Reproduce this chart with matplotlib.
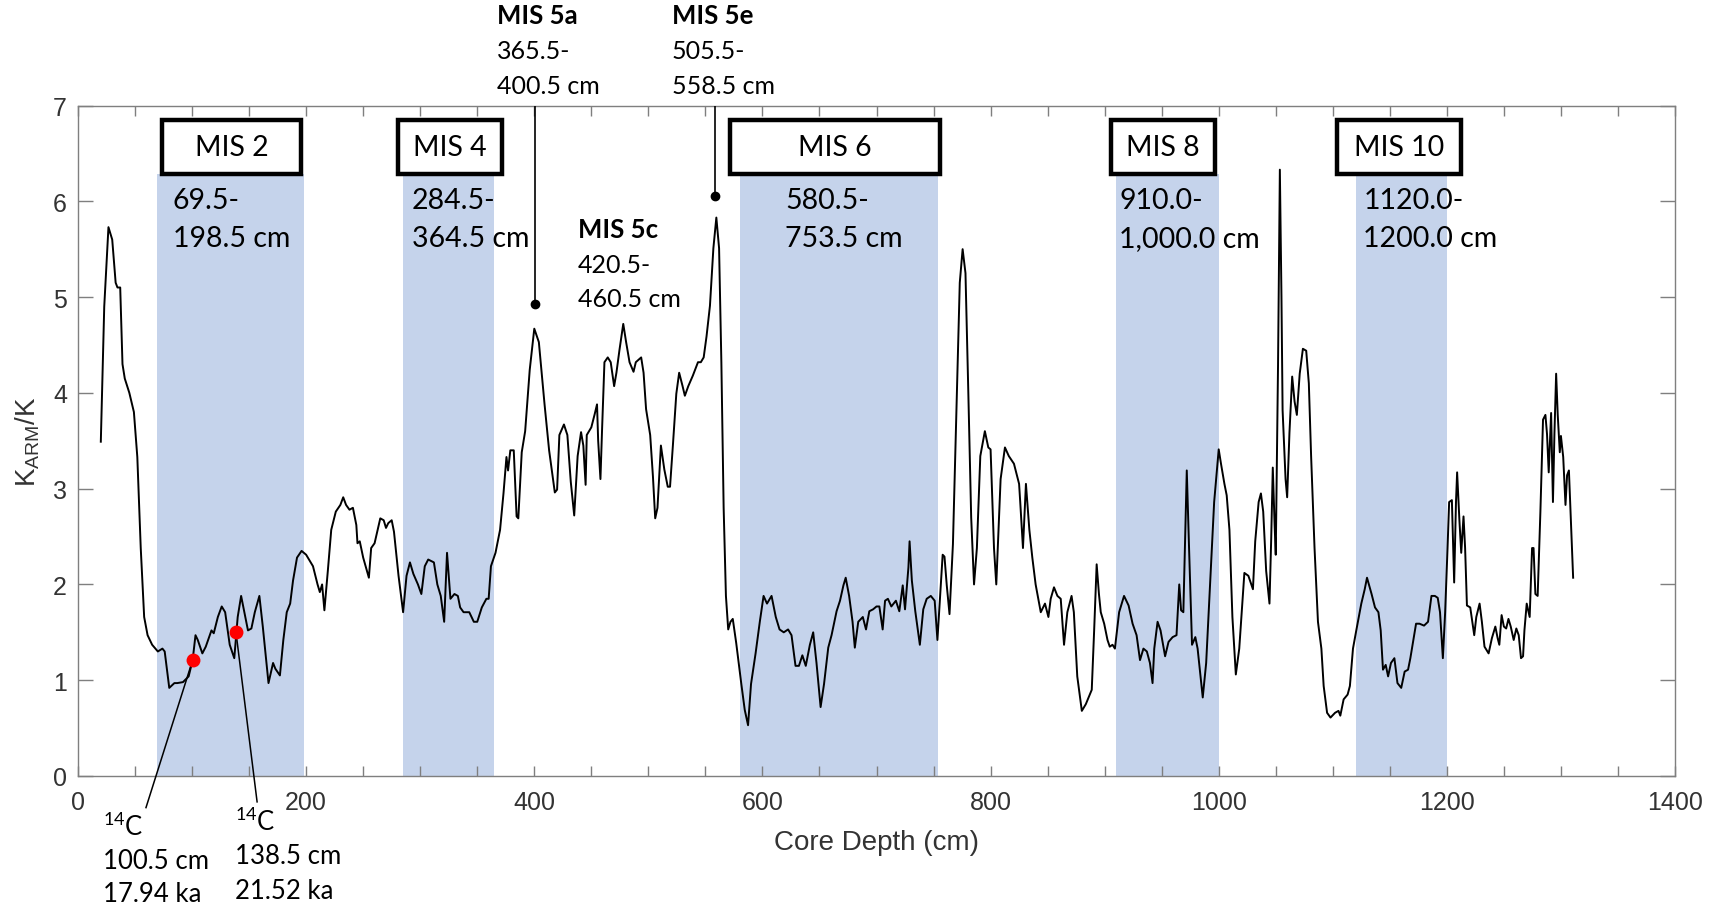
import matplotlib
matplotlib.use("Agg")
import matplotlib.pyplot as plt
from matplotlib.patches import Rectangle
from matplotlib.ticker import MultipleLocator

# ---------------------------------------------------------------- data
depth_cm = [
    20, 23, 26.7, 30, 33, 34.6, 37, 39, 41, 45, 49, 52, 55, 58, 61, 65, 70, 74, 76, 80,
    84.5, 87, 92, 97, 100.5, 103, 105, 109, 112, 117, 119, 122.6, 126, 129, 133, 137, 140,
    143, 145, 149, 152, 155, 159, 162, 167, 171, 173, 177, 180, 183, 186, 188.5, 192, 196,
    200, 206, 210, 212, 214, 216, 219, 222, 226, 230, 232.5, 235, 238, 241, 244, 245, 247,
    250, 255, 257, 260, 265, 268, 270, 272, 275, 277, 281, 285, 288, 291, 294, 298, 301,
    304, 307, 312, 315, 318, 321, 323.5, 325, 326.5, 330, 333, 335, 338, 343, 345, 347,
    350, 354, 358, 360, 362, 366, 370, 373, 375.6, 377, 379, 382, 384.5, 386, 389, 392,
    396, 400, 404, 409, 413, 418, 420, 422, 426, 429, 432, 435, 438, 441, 443, 445, 446,
    450, 453, 455, 456, 458, 459.4, 461.5, 464.4, 467, 470, 472, 474.7, 478, 480.5, 483.5,
    487, 489, 493.7, 495.8, 498, 501.6, 504, 506, 508, 511, 514, 517, 519, 521.5, 524.5,
    527, 530, 532, 535, 539, 543.5, 546, 548.5, 551, 554, 557, 559.6, 562, 564, 566, 568,
    570, 572, 574, 577, 581.5, 584.5, 587.4, 590, 594, 597.7, 601, 604, 608, 611.7, 615,
    618.7, 622.5, 625.5, 629, 632, 635, 638, 641.6, 644.5, 647.4, 651, 654, 657.7, 660.6,
    665, 668, 671, 673, 676, 679, 681, 684, 688, 690.8, 693.7, 697, 700, 702.5, 705.4,
    707.5, 710, 713, 717, 720, 723, 725, 728, 729, 731, 734, 738, 741, 744, 747.6, 751,
    753.4, 755.8, 758, 759.6, 761.6, 764, 767, 770, 773, 775.5, 778, 780.5, 783, 785.5,
    788, 791, 795, 798, 800, 803, 805, 808.8, 812.6, 816, 820.5, 825, 826, 828.4, 831,
    834, 836.6, 839.5, 844, 847.7, 850.7, 852.7, 855.6, 858.6, 861.5, 864.4, 867.3, 871,
    873, 876, 880, 883.5, 888.7, 890.8, 893, 895, 896.6, 899.6, 902.5, 904.5, 906.9, 909,
    912.7, 917, 921, 924.5, 928, 931, 934, 937, 939.7, 942, 943.5, 946.4, 949, 953, 956,
    959.6, 963, 965.4, 967, 969, 972, 974, 976.6, 979.5, 981.5, 986, 989, 992, 996, 1000,
    1002, 1005, 1007, 1009.4, 1012, 1015, 1018, 1022.5, 1026, 1030, 1032, 1035, 1037,
    1039, 1041.6, 1044.5, 1046, 1047.4, 1049, 1050, 1052, 1053.6, 1055, 1056, 1058.6,
    1060, 1062, 1064.4, 1066.5, 1068.5, 1071, 1073.8, 1076.7, 1079, 1081, 1084, 1087,
    1090, 1092, 1095, 1098, 1102, 1105, 1106.6, 1109.5, 1113, 1115, 1117.7, 1120.6, 1125,
    1128, 1130, 1134, 1137, 1140, 1142, 1144, 1146.4, 1148.5, 1151, 1154, 1156.7, 1160,
    1163, 1166, 1168, 1170.6, 1173, 1176, 1180, 1183.5, 1186.5, 1189.5, 1192, 1194,
    1196.5, 1198.5, 1200.6, 1202, 1204.4, 1206.4, 1208, 1209, 1211, 1212.6, 1214.6, 1216,
    1217.6, 1220.5, 1224, 1225.8, 1228.7, 1230.7, 1233, 1236.6, 1239.5, 1242.5, 1244.5,
    1246, 1248, 1250, 1252, 1254, 1256, 1258.6, 1260.9, 1263, 1265, 1266.8, 1268, 1270,
    1272.6, 1274.7, 1276, 1277.6, 1279.6, 1282, 1284.3, 1286.4, 1287.8, 1289.3, 1291.4,
    1293, 1294.3, 1295.8, 1297.2, 1299, 1300, 1302, 1304, 1305.4, 1307, 1309, 1310.7,
]
karm_k = [
    3.49, 4.9, 5.73, 5.6, 5.15, 5.1, 5.1, 4.3, 4.15, 4.0, 3.8, 3.33, 2.38, 1.66, 1.47, 1.37, 1.3, 1.33, 1.3, 0.92,
    0.97, 0.97, 0.98, 1.04, 1.21, 1.47, 1.42, 1.28, 1.35, 1.52, 1.49, 1.66, 1.77, 1.71, 1.37, 1.23, 1.66,
    1.88, 1.76, 1.52, 1.54, 1.71, 1.88, 1.56, 0.97, 1.18, 1.12, 1.05, 1.42, 1.71, 1.8, 2.04, 2.28, 2.35,
    2.31, 2.19, 2.0, 1.92, 2.0, 1.73, 2.14, 2.57, 2.76, 2.83, 2.91, 2.83, 2.78, 2.8, 2.62, 2.43, 2.45,
    2.28, 2.07, 2.38, 2.43, 2.69, 2.67, 2.59, 2.64, 2.67, 2.55, 2.09, 1.71, 2.09, 2.23, 2.11, 2.0, 1.9,
    2.19, 2.26, 2.23, 2.0, 1.88, 1.61, 2.33, 2.09, 1.85, 1.9, 1.88, 1.76, 1.71, 1.71, 1.66, 1.61,
    1.61, 1.76, 1.85, 1.85, 2.19, 2.33, 2.57, 2.95, 3.33, 3.19, 3.4, 3.4, 2.71, 2.69, 3.38, 3.6,
    4.24, 4.67, 4.53, 3.88, 3.4, 2.96, 2.99, 3.56, 3.67, 3.56, 3.07, 2.72, 3.34, 3.59, 3.45, 3.04, 3.56,
    3.64, 3.78, 3.88, 3.5, 3.1, 3.61, 4.32, 4.37, 4.32, 4.07, 4.21, 4.45, 4.72, 4.53, 4.32,
    4.22, 4.32, 4.37, 4.21, 3.83, 3.56, 3.13, 2.69, 2.8, 3.45, 3.2, 3.02, 3.02, 3.45, 3.99,
    4.21, 4.07, 3.97, 4.07, 4.18, 4.32, 4.32, 4.37, 4.59, 4.91, 5.51, 5.83, 5.51, 4.32, 2.8, 1.88,
    1.53, 1.61, 1.64, 1.39, 0.96, 0.69, 0.53, 0.96, 1.28, 1.61, 1.88, 1.8, 1.88, 1.66, 1.53,
    1.5, 1.53, 1.47, 1.15, 1.15, 1.26, 1.15, 1.37, 1.5, 1.18, 0.72, 0.96, 1.34, 1.47,
    1.72, 1.83, 1.99, 2.07, 1.88, 1.61, 1.34, 1.61, 1.66, 1.53, 1.72, 1.74, 1.77, 1.77, 1.53,
    1.83, 1.85, 1.77, 1.83, 1.72, 1.99, 1.74, 2.18, 2.45, 2.04, 1.72, 1.37, 1.74, 1.85, 1.88, 1.83,
    1.42, 1.88, 2.31, 2.29, 1.99, 1.69, 2.42, 3.8, 5.15, 5.5, 5.25, 4.0, 2.7, 2.0,
    2.38, 3.34, 3.6, 3.43, 3.41, 2.38, 2.0, 3.1, 3.43, 3.34, 3.26, 3.05, 2.86, 2.38, 3.05,
    2.57, 2.28, 2.0, 1.71, 1.8, 1.66, 1.85, 1.97, 1.88, 1.85, 1.37, 1.71, 1.88,
    1.71, 1.04, 0.68, 0.75, 0.9, 1.52, 2.21, 1.9, 1.71, 1.59, 1.42, 1.35, 1.37, 1.33,
    1.71, 1.88, 1.78, 1.59, 1.47, 1.21, 1.33, 1.3, 1.18, 0.97, 1.33, 1.61, 1.52, 1.25, 1.4,
    1.45, 1.47, 2.0, 1.73, 1.71, 3.19, 2.38, 1.37, 1.45, 1.33, 0.82, 1.18, 1.9, 2.86, 3.41,
    3.26, 3.05, 2.93, 2.57, 1.66, 1.06, 1.33, 2.12, 2.09, 1.95, 2.45, 2.86, 2.95,
    2.76, 2.14, 1.8, 2.47, 3.22, 2.62, 2.31, 4.29, 6.33, 5.01, 3.82, 3.1,
    2.91, 3.58, 4.17, 3.91, 3.77, 4.2, 4.46, 4.44, 4.1, 3.34, 2.38, 1.61,
    1.33, 0.94, 0.66, 0.61, 0.66, 0.68, 0.63, 0.8, 0.85, 0.94, 1.33, 1.52, 1.8,
    1.95, 2.07, 1.9, 1.76, 1.71, 1.52, 1.11, 1.16, 1.04, 1.18, 1.23, 0.97, 0.92,
    1.09, 1.11, 1.23, 1.42, 1.59, 1.59, 1.57, 1.61, 1.88, 1.88, 1.86, 1.71,
    1.23, 1.71, 2.38, 2.86, 2.88, 2.02, 2.86, 3.17, 2.67, 2.33, 2.71, 2.38,
    1.78, 1.76, 1.47, 1.66, 1.8, 1.61, 1.35, 1.28, 1.44, 1.56, 1.44,
    1.37, 1.68, 1.56, 1.54, 1.64, 1.56, 1.42, 1.54, 1.47, 1.23, 1.25, 1.52, 1.8,
    1.66, 2.38, 2.38, 1.9, 1.88, 2.76, 3.72, 3.77, 3.57, 3.17, 3.79,
    2.86, 3.57, 4.2, 3.77, 3.38, 3.55, 3.33, 2.83, 3.14, 3.19, 2.57, 2.07,
]

# marine isotope stage intervals (cm)
mis_names = ["MIS 2", "MIS 4", "MIS 6", "MIS 8", "MIS 10"]
mis_top_cm = [69.5, 284.5, 580.5, 910.0, 1120.0]
mis_base_cm = [198.5, 364.5, 753.5, 1000.0, 1200.0]
mis_range_line1 = ["69.5-", "284.5-", "580.5-", "910.0-", "1120.0-"]
mis_range_line2 = ["198.5 cm", "364.5 cm", "753.5 cm", "1,000.0 cm", "1200.0 cm"]

# MIS 5 substages marked by a pointer or a plain label
sub_names = ["MIS 5a", "MIS 5e", "MIS 5c"]
sub_line1 = ["365.5-", "505.5-", "420.5-"]
sub_line2 = ["400.5 cm", "558.5 cm", "460.5 cm"]
peak_depth_cm = [400.5, 558.5]

# radiocarbon dates
c14_depth_cm = [100.5, 138.5]
c14_value = [1.21, 1.50]
c14_age_ka = ["17.94 ka", "21.52 ka"]

# ---------------------------------------------------------------- layout
W, H, DPI = 1722, 912, 100
BAND = "#c5d3eb"
TXT = "#333333"
box_left = [73.9, 280.2, 571.9, 905.6, 1104.0]
box_right = [195.2, 371.4, 755.4, 997.0, 1212.4]
box_lo, box_hi = 6.29, 6.85
range_x = [83, 292.5, 619.8, 912.9, 1126.8]
sub_text_x = [367.3, 520.7, 438.3]
sub_text_y = [(7.94, 7.57, 7.21), (7.94, 7.57, 7.21), (5.71, 5.34, 4.98)]
pointer_tip = [4.93, 6.05]
c14_line_end = [(59.6, -0.33), (157.0, -0.27)]
c14_text_x = [21.9, 137.6]
c14_text_y = [(-0.52, -0.877, -1.23), (-0.47, -0.835, -1.20)]

fig = plt.figure(figsize=(W / DPI, H / DPI), dpi=DPI)
ax = fig.add_axes([78 / W, 1 - 777 / H, 1597 / W, 670.5 / H])

# shaded stage bands with boxed names
for i, name in enumerate(mis_names):
    ax.axvspan(mis_top_cm[i], mis_base_cm[i], ymin=0, ymax=box_lo / 7,
               color=BAND, lw=0, zorder=1)
    ax.add_patch(Rectangle((box_left[i], box_lo), box_right[i] - box_left[i],
                           box_hi - box_lo, facecolor="white", edgecolor="black",
                           lw=3.2, zorder=5, clip_on=False))
    ax.text((box_left[i] + box_right[i]) / 2, (box_lo + box_hi) / 2, name,
            ha="center", va="center", fontsize=20.5, family="Lato", color="black",
            zorder=6)
    ax.text(range_x[i], 6.01, mis_range_line1[i], ha="left", va="center",
            fontsize=20.5, family="Lato", color="black", zorder=6)
    ax.text(range_x[i], 5.62, mis_range_line2[i], ha="left", va="center",
            fontsize=20.5, family="Lato", color="black", zorder=6)

# magnetic record
ax.plot(depth_cm, karm_k, color="black", lw=1.4, zorder=3)

# MIS 5 substage labels
for i, name in enumerate(sub_names):
    y1, y2, y3 = sub_text_y[i]
    ax.text(sub_text_x[i], y1, name, ha="left", va="center", fontsize=18.5,
            family="Lato", fontweight="bold", color="black", clip_on=False)
    ax.text(sub_text_x[i], y2, sub_line1[i], ha="left", va="center", fontsize=18,
            family="Lato", color="black", clip_on=False)
    ax.text(sub_text_x[i], y3, sub_line2[i], ha="left", va="center", fontsize=18,
            family="Lato", color="black", clip_on=False)
for x, tip in zip(peak_depth_cm, pointer_tip):
    ax.plot([x, x], [7, tip], color="black", lw=1.2, zorder=4)
    ax.plot([x], [tip], "o", color="black", ms=6, zorder=4)

# radiocarbon samples
for i, (x, y) in enumerate(zip(c14_depth_cm, c14_value)):
    ex, ey = c14_line_end[i]
    ty1, ty2, ty3 = c14_text_y[i]
    ax.plot([x, ex], [y, ey], color="black", lw=1.1, zorder=4, clip_on=False)
    ax.plot([x], [y], "o", color="#ff0000", ms=10, mec="none", zorder=5)
    ax.text(c14_text_x[i], ty1, r"$\mathregular{^{14}}$C", ha="left", va="center",
            fontsize=18.5, family="Lato", color="black")
    ax.text(c14_text_x[i], ty2, f"{x:.1f} cm", ha="left", va="center",
            fontsize=18.5, family="Lato", color="black")
    ax.text(c14_text_x[i], ty3, c14_age_ka[i], ha="left", va="center",
            fontsize=18.5, family="Lato", color="black")

# axes styling
ax.set_xlim(0, 1400)
ax.set_ylim(0, 7)
ax.xaxis.set_major_locator(MultipleLocator(200))
ax.xaxis.set_minor_locator(MultipleLocator(50))
ax.yaxis.set_major_locator(MultipleLocator(1))
for s in ax.spines.values():
    s.set_color("#7f7f7f")
    s.set_linewidth(1.0)
ax.tick_params(axis="x", which="both", direction="in", top=True, length=7,
               width=1.0, color="#7f7f7f", labelsize=18, labelcolor=TXT, pad=10)
ax.tick_params(axis="x", which="minor", labelbottom=False)
ax.tick_params(axis="y", which="both", direction="in", right=True, length=11,
               width=1.0, color="#7f7f7f", labelsize=18, labelcolor=TXT, pad=8)
for lab in ax.get_xticklabels() + ax.get_yticklabels():
    lab.set_family("Liberation Sans")
ax.set_xlabel("Core Depth (cm)", fontsize=20, family="Liberation Sans", color=TXT,
              labelpad=11)
ax.set_ylabel(r"K$\mathregular{_{ARM}}$/K", fontsize=20, family="Liberation Sans",
              color=TXT, labelpad=8)

fig.savefig("out.png", dpi=DPI)
